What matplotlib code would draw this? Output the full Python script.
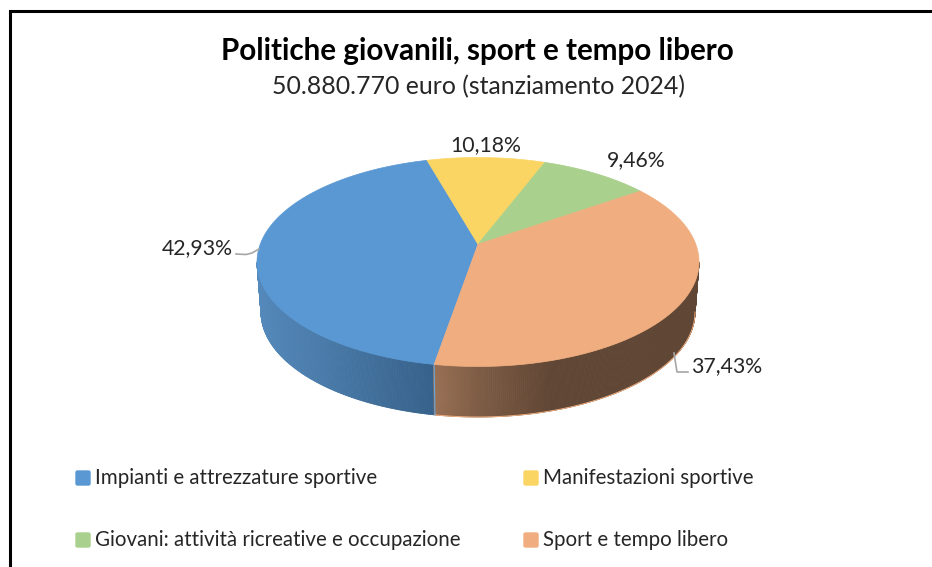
import numpy as np
import matplotlib
matplotlib.use("Agg")
import matplotlib.pyplot as plt
from matplotlib.patches import Polygon, FancyBboxPatch
from matplotlib.collections import PolyCollection

categories = ["Impianti e attrezzature sportive", "Manifestazioni sportive",
              "Giovani: attività ricreative e occupazione", "Sport e tempo libero"]
shares = [42.93, 10.18, 9.46, 37.43]
title = "Politiche giovanili, sport e tempo libero"
subtitle = "50.880.770 euro (stanziamento 2024)"

colors = ["#5A98D3", "#FBD564", "#A9D08C", "#F0AE80"]
CX, CY, RX, RY = 478, 262, 221, 104.5
BCX, BCY, BRX, BRY = 478, 312, 217, 105
ECC = 0.17
START = 105.8

plt.rcParams["font.family"] = ["Lato", "DejaVu Sans"]
fig = plt.figure(figsize=(9.32, 5.67), dpi=100)
ax = fig.add_axes([0, 0, 1, 1])
ax.set_xlim(0, 932)
ax.set_ylim(567, 0)
ax.axis("off")


def persp(theta):
    """Map pie angles (deg, ccw) to the unit-circle positions seen in perspective."""
    x, y = np.cos(np.radians(theta)), np.sin(np.radians(theta))
    d = 1 + ECC * y
    return x * np.sqrt(1 - ECC ** 2) / d, (y + ECC) / d


def top(theta):
    x, y = persp(theta)
    return CX + RX * x, CY - RY * y


def bottom(theta):
    x, y = persp(theta)
    return BCX + BRX * x, BCY - BRY * y


# blue runs counter-clockwise from the top; the rest run clockwise
edges = START - np.concatenate([[0], np.cumsum(shares[1:])]) * 3.6
blue_start, blue_end = START, START + shares[0] * 3.6
split = blue_end
split_x = bottom(split)[0]

# wall colour ramps, by horizontal position
blue_x, blue_ramp = [258, split_x], np.array([[0x55, 0x8A, 0xBC], [0x36, 0x61, 0x8A]]) / 255
orange_x = [split_x, split_x + 40, split_x + 115, 700]
orange_ramp = np.array([[0x98, 0x70, 0x54], [0x80, 0x5E, 0x46], [0x60, 0x46, 0x34], [0x60, 0x46, 0x34]]) / 255

# side wall: narrow strips over the front half of the pie
lim = np.degrees(np.arcsin(ECC))
wall_angles = np.linspace(180 + lim, 360 - lim, 361)
polys, cols = [], []
for a0, a1 in zip(wall_angles[:-1], wall_angles[1:]):
    x0, y0 = top(a0)
    x1, y1 = top(a1)
    x2, y2 = bottom(a1)
    x3, y3 = bottom(a0)
    polys.append([(x0, y0), (x1, y1), (x2, y2), (x3, y3)])
    xm = (x2 + x3) / 2
    xr, ramp = (blue_x, blue_ramp) if a1 <= split else (orange_x, orange_ramp)
    cols.append(tuple(np.interp(xm, xr, ramp[:, i]) for i in range(3)))
ax.add_collection(PolyCollection(polys, facecolors=cols, edgecolors=cols, linewidths=0.6, zorder=2))

# rims and slice edge on the wall
ta = np.linspace(split, 360 - lim, 120)
ax.plot(*bottom(ta), color="#F0AE80", lw=0.7, zorder=3)
ax.plot([top(split)[0], bottom(split)[0]], [top(split)[1], bottom(split)[1]],
        color="#6AA5DC", lw=0.8, zorder=3)

# top faces
apex = (CX, CY - RY * ECC)
spans = [(blue_start, blue_end), (edges[0], edges[1]), (edges[1], edges[2]), (edges[2], edges[3])]
for (a0, a1), c in zip(spans, colors):
    t = np.linspace(a0, a1, 200)
    x, y = top(t)
    pts = np.column_stack([np.r_[apex[0], x], np.r_[apex[1], y]])
    ax.add_patch(Polygon(pts, closed=True, facecolor=c, edgecolor=c, lw=0.5, zorder=4))

# leader lines
ax.plot([236, 246, 252, 259], [254, 254.5, 253, 249], color="#A6A6A6", lw=1.2, zorder=5)
ax.plot([674, 677, 688], [353, 372, 372], color="#A6A6A6", lw=1.2, zorder=5)

# data labels
label_pos = [(197, 248), (486, 145), (636, 160), (727, 366)]
for v, (x, y) in zip(shares, label_pos):
    ax.text(x, y, f"{v:.2f}%".replace(".", ","), ha="center", va="center",
            fontsize=15.3, color="#262626", zorder=6)

# titles
ax.text(477.5, 51, title, ha="center", va="center", fontsize=21.3, fontweight="bold", color="#000000")
ax.text(478, 87, subtitle, ha="center", va="center", fontsize=17.9, color="#262626")

# legend
legend_pos = [(75, 478), (523, 478), (75, 540), (523, 540)]
for (x, y), c, name in zip(legend_pos, colors, categories):
    ax.add_patch(FancyBboxPatch((x + 1, y - 7), 14, 14, boxstyle="round,pad=0,rounding_size=1.5",
                                facecolor=c, edgecolor=c, lw=1))
    ax.text(x + 20, y, name, ha="left", va="center", fontsize=14.8, color="#262626")

# frame
ax.plot([9.5, 9.5, 932], [567, 11, 11], color="black", lw=2.2, solid_joinstyle="miter")

fig.savefig("out.png", dpi=100)
